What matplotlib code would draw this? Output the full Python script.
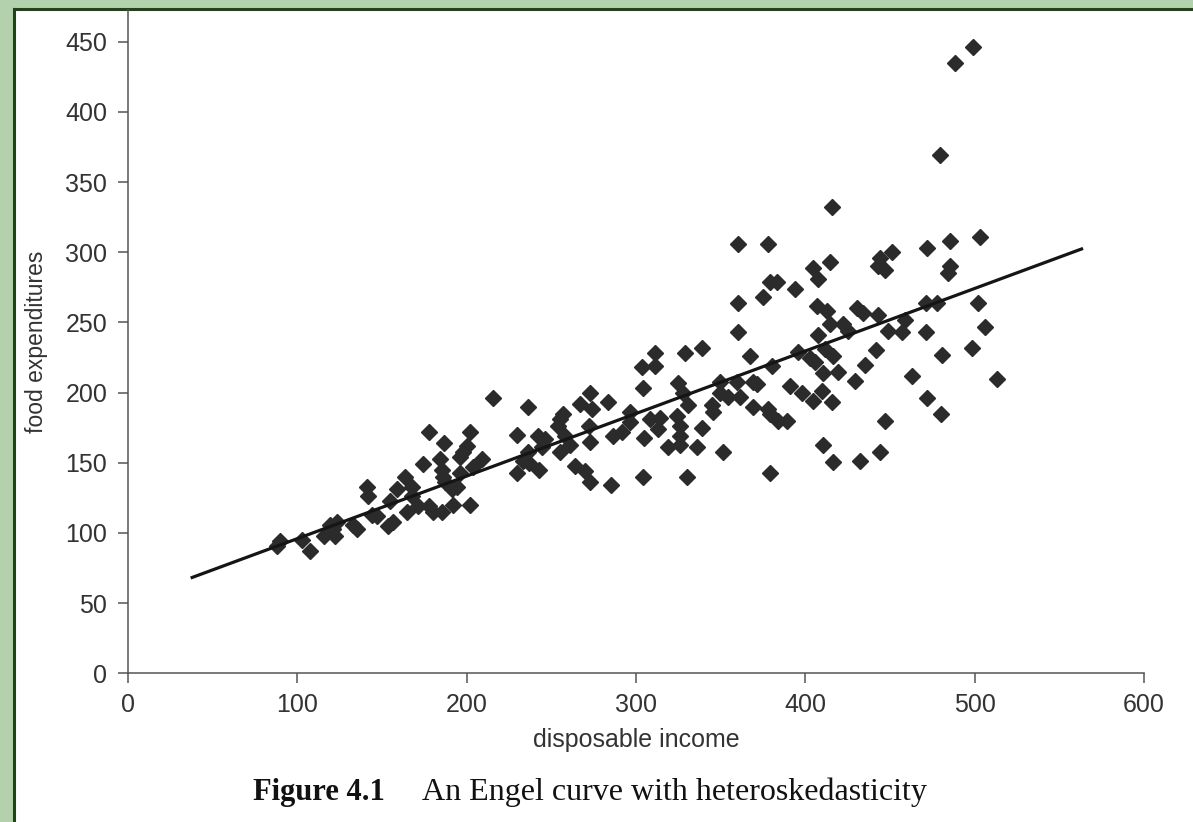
import matplotlib
matplotlib.use("Agg")
import matplotlib.pyplot as plt
from matplotlib.patches import Rectangle
from matplotlib.lines import Line2D
import numpy as np

# disposable income / food expenditure pairs
income = [
    90, 88, 103, 107.5, 119, 121, 123.5, 116, 122, 133, 135, 141, 142, 144, 147,
    215.6, 178, 202, 186.5, 200, 174, 184, 185.5, 186, 196, 198, 204, 209, 196,
    163.5, 168, 159, 155, 165, 171, 178, 180, 185.5, 192, 202, 191.5, 194, 187,
    168, 156.5, 153.5,
    236, 273, 267, 274, 283.5, 257, 255, 254, 272, 230, 242, 246, 258, 261, 255,
    273, 244.5, 236, 233, 237, 243, 230, 264, 270, 273, 285, 304, 330, 286.5,
    292, 296.5, 296.5, 305, 308, 314, 313, 319, 324, 326, 326, 326, 336, 339,
    331, 345, 345.5, 304, 303.5, 311, 311, 329, 339, 325, 328,
    360, 378, 414.6, 404.6, 407.6, 379, 383, 394, 375, 360, 407, 413, 414.6,
    422, 430.6, 360, 407.6, 411.7, 416.4, 395.7, 402.8, 405.8, 410.5, 419.4,
    429.4, 367.4, 380.4, 349.7, 359.7, 369, 371.5, 349.7, 354.4, 361.5, 391,
    398, 404.6, 410, 415.8, 369, 378, 379, 384, 389, 351.4, 410.5, 416.4, 379,
    432,
    503, 485.5, 472, 451, 444, 443, 447, 485.5, 484, 416, 502, 471, 478, 434,
    443, 459, 425, 449, 457, 471, 506, 442, 435, 481, 498.5, 463, 513, 472,
    480, 447, 444,
    499, 488.5, 479.6,
]
food = [
    94, 90.5, 95, 87, 106, 102.5, 107.5, 97.5, 97.5, 106, 102.5, 133, 126, 113, 112,
    196, 172, 172, 164, 162, 149, 152.5, 145, 140, 154, 158, 147, 152.5, 143,
    140, 133, 131, 122.5, 115, 119, 119, 115, 115, 120, 120, 131, 133, 136,
    126, 107.5, 105,
    190, 200, 192, 188, 193, 184.5, 181, 176, 176, 170, 169, 167, 169, 163, 158,
    164.5, 161, 157.5, 151, 150, 145, 142.5, 147.5, 144, 136, 134, 140, 140, 169,
    172, 186, 179, 168, 181, 182, 174, 161, 183, 176, 169, 163, 161, 175,
    191.5, 191.5, 186, 203, 218, 219, 228, 228.5, 232, 207, 200,
    305.6, 305.6, 292.7, 288.5, 280.6, 278.5, 279, 274, 268, 264, 262, 258, 249,
    248.6, 260, 243, 240.7, 231, 226, 228.6, 225, 221.5, 213.7, 214.4,
    208, 226, 218.7, 207.3, 207.3, 207.3, 206, 200, 197, 196.6, 204.4,
    200, 193.7, 201, 193, 189.5, 188, 184.5, 179.5, 179.5, 158, 163, 150.3, 142.5,
    151,
    311, 308, 302.7, 300, 296, 290, 287.7, 290, 285, 332, 263.5, 264, 263.5, 257,
    255, 252, 243.6, 244, 243, 243, 246.4, 230, 220, 227, 232, 211.5, 210, 196,
    184.5, 180, 158,
    446, 434.5, 369,
]

# fitted Engel curve
intercept, slope = 51.4, 0.4456
fit_range = [37, 564]

x_ticks = [0, 100, 200, 300, 400, 500, 600]
y_ticks = [0, 50, 100, 150, 200, 250, 300, 350, 400, 450]

W, H = 1193, 822
fig = plt.figure(figsize=(W / 100, H / 100), dpi=100)
fig.patch.set_facecolor("#b3d1ad")

# white page with a dark green edge on the left and top
fig.patches.append(Rectangle((15 / W, 0), 1, 1 - 10 / H, transform=fig.transFigure,
                             facecolor="white", edgecolor="none", zorder=-2))
fig.lines.append(Line2D([14 / W, 14 / W], [0, 1 - 9 / H], transform=fig.transFigure,
                        color="#1e4418", lw=2.2, zorder=-1))
fig.lines.append(Line2D([14 / W, 1], [1 - 9 / H, 1 - 9 / H], transform=fig.transFigure,
                        color="#1e4418", lw=2.2, zorder=-1))

ax = fig.add_axes([128 / W, 1 - 673.3 / H, (1144 - 128) / W, (673.3 - 10) / H])
ax.set_zorder(1)
ax.set_facecolor("none")

xs = np.array(fit_range)
ax.plot(xs, intercept + slope * xs, color="#151515", lw=2.3, zorder=3,
        solid_capstyle="butt")
ax.plot(income, food, ls="none", marker="D", ms=8, color="#2b2b2b",
        mec="#2b2b2b", zorder=2)

ax.set_xlim(0, 600)
ax.set_ylim(0, 472.6)
ax.set_xticks(x_ticks)
ax.set_yticks(y_ticks)

for side in ("top", "right"):
    ax.spines[side].set_visible(False)
for side in ("left", "bottom"):
    ax.spines[side].set_color("#555555")
    ax.spines[side].set_linewidth(1.1)

ax.tick_params(axis="both", direction="out", length=7, width=1.1, color="#555555",
               labelsize=18, labelcolor="#333333")
ax.tick_params(axis="y", pad=8)
ax.tick_params(axis="x", pad=7)
for lbl in ax.get_xticklabels() + ax.get_yticklabels():
    lbl.set_fontfamily("Liberation Sans")

ax.set_xlabel("disposable income", fontsize=18, color="#333333",
              fontfamily="Liberation Sans", labelpad=8)
ax.set_ylabel("food expenditures", fontsize=16.5, color="#333333",
              fontfamily="Liberation Sans", labelpad=12)

fig.text(253 / W, 1 - 800 / H, "Figure 4.1", fontsize=22, fontweight="bold",
         fontfamily="Liberation Serif", va="baseline", ha="left", color="#111111")
fig.text(422 / W, 1 - 800 / H, "An Engel curve with heteroskedasticity", fontsize=23,
         fontfamily="Liberation Serif", va="baseline", ha="left", color="#111111")

fig.savefig("out.png", dpi=100, facecolor=fig.get_facecolor())
